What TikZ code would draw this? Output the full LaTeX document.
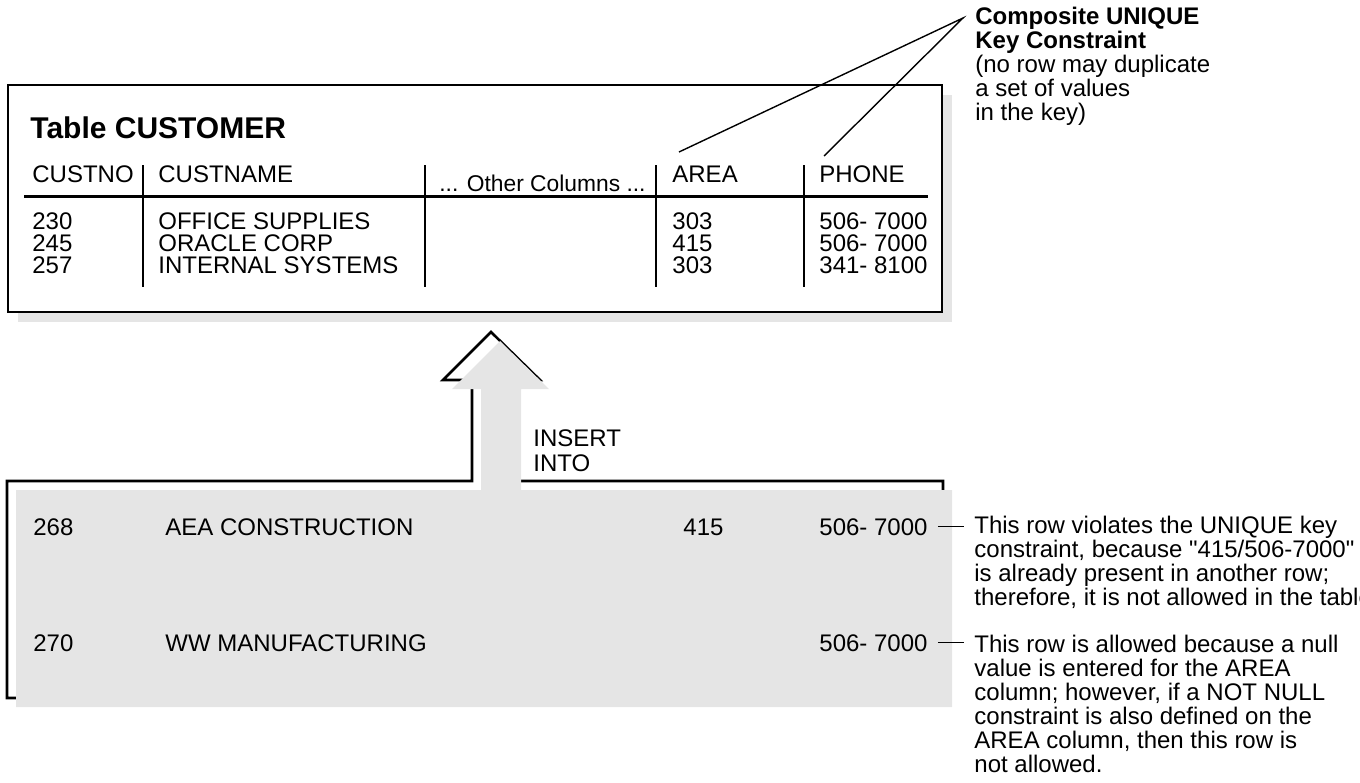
\documentclass[tikz,border=0pt]{standalone}
\usepackage{fontspec}
\setmainfont{Liberation Sans}[Ligatures=TeXOff]
\usetikzlibrary{calc}
\definecolor{panelgray}{gray}{0.9}
\tikzset{
  frame/.style  ={draw, line width=1.3pt, line join=miter},
  rule/.style   ={line width=1.5pt},
  sep/.style    ={line width=1.4pt},
  lead/.style   ={line width=0.7pt},
  cell/.style   ={anchor=base west, inner sep=0pt, font=\fontsize{12}{12}\selectfont},
  ttl/.style    ={anchor=base west, inner sep=0pt, font=\fontsize{15}{15}\selectfont\bfseries},
  note/.style   ={cell, align=left},
}
\begin{document}
\begin{tikzpicture}[x=0.5pt, y=-0.5pt]
  \useasboundingbox (0,0) rectangle (1360,782);
  % table CUSTOMER
  \fill[panelgray] (18,95) rectangle (952,322);
  \draw[frame, fill=white] (8,85) rectangle (942,312);
  \node[ttl] (title) at (30,138) {Table CUSTOMER};
  \foreach \x/\name/\txt in {32/cno/CUSTNO, 158/cname/CUSTNAME, 672/area/AREA, 819/phone/PHONE}
    \node[cell] (h\name) at (\x,182) {\txt};
  \node[cell, font=\fontsize{11.4}{12}\selectfont] (hother) at (439,191) {... Other Columns ...};
  \draw[rule] (24,196) -- (928,196);
  \foreach \x in {143,425,656,804}
    \draw[sep] (\x,165) -- (\x,287);
  \foreach \y/\no/\nm/\ar/\ph in {229/230/OFFICE SUPPLIES/303/506- 7000, 251/245/ORACLE CORP/415/506- 7000, 273/257/INTERNAL SYSTEMS/303/341- 8100} {
    \node[cell] (no\no) at (32,\y) {\no};
    \node[cell] (nm\no) at (158,\y) {\nm};
    \node[cell] (ar\no) at (672,\y) {\ar};
    \node[cell] (ph\no) at (819,\y) {\ph};
  }
  % key callout (base = last line)
  \coordinate (key) at (963,18);
  \coordinate (karea) at (679,152);
  \coordinate (kphone) at (824,156);
  \draw[lead] (karea) -- (key) -- (kphone);
  \node[note] (keylbl) at (975,120) {\textbf{Composite UNIQUE}\\\textbf{Key Constraint}\\(no row may duplicate\\a set of values\\in the key)};
  % insert arrow and new rows
  \draw[frame] (7,698) -- (7,481) -- (472,481) -- (472,380) -- (443,380) -- (491,332) -- (540,380) -- (512,380) -- (512,481) -- (943,481) -- (943,698) -- cycle;
  \fill[panelgray] (16,707) -- (16,490) -- (481,490) -- (481,389) -- (452,389) -- (500,341) -- (549,389) -- (521,389) -- (521,490) -- (952,490) -- (952,707) -- cycle;
  \node[note, font=\fontsize{12}{12.5}\selectfont] (ins) at (533,471) {INSERT\\INTO};
  \node[cell] (no268) at (33,535) {268};
  \node[cell] (nm268) at (165,535) {AEA CONSTRUCTION};
  \node[cell] (ar268) at (683,535) {415};
  \node[cell] (ph268) at (819,535) {506- 7000};
  \node[cell] (no270) at (33,651) {270};
  \node[cell] (nm270) at (165,651) {WW MANUFACTURING};
  \node[cell] (ph270) at (819,651) {506- 7000};
  % notes
  \node[note] (n268) at (974,605) {This row violates the UNIQUE key\\constraint, because "415/506-7000"\\is already present in another row;\\therefore, it is not allowed in the table};
  \node[note] (n270) at (974,772) {This row is allowed because a null\\value is entered for the AREA\\column; however, if a NOT NULL\\constraint is also defined on the\\AREA column, then this row is\\not allowed.};
  \draw[lead] ([xshift=5pt]ph268.east) -- ([xshift=-5pt]ph268.east -| n268.west);
  \draw[lead] ([xshift=5pt]ph270.east) -- ([xshift=-5pt]ph270.east -| n270.west);
\end{tikzpicture}
\end{document}
